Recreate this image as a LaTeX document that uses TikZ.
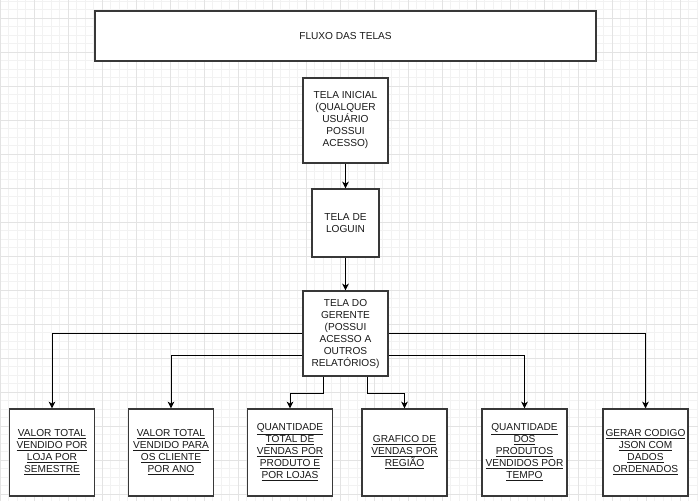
\documentclass[tikz,border=0pt]{standalone}
\usepackage{fontspec}
\setmainfont{Liberation Sans}
\usetikzlibrary{arrows.meta,calc}

\begin{document}
\begin{tikzpicture}[x=0.75pt,y=-0.75pt,
  gridminor/.style={draw=black!5,line width=0.6pt},
  gridmajor/.style={draw=black!11,line width=0.75pt},
  box/.style={draw=black!78,fill=white,line width=1.1pt,inner sep=0pt,
    align=center,font=\fontsize{7.6pt}{9pt}\selectfont,text=black!90},
  arr/.style={draw=black,line width=0.75pt,
    -{Stealth[length=5pt,width=5pt,inset=1.5pt]}}]

% canvas and grid
\useasboundingbox (0,0) rectangle (698,501);
\fill[white] (0,0) rectangle (698,501);
\foreach \i in {0,...,82} {
  \draw[gridminor] (\i*8.5,0) -- (\i*8.5,501);
}
\foreach \i in {0,...,59} {
  \draw[gridminor] (0,1.3+\i*8.5) -- (698,1.3+\i*8.5);
}
\foreach \i in {0,...,20} {
  \draw[gridmajor] (0.3+\i*34,0) -- (0.3+\i*34,501);
}
\foreach \i in {0,...,14} {
  \draw[gridmajor] (0,18.3+\i*34) -- (698,18.3+\i*34);
}

% title
\node[box,minimum width=501*0.75pt,minimum height=50*0.75pt] (title) at (345.5,36)
  {FLUXO DAS TELAS};

% main screens
\node[box,minimum width=85*0.75pt,minimum height=85*0.75pt] (ini) at (345.5,120.5)
  {TELA INICIAL\\(QUALQUER\\USUÁRIO\\POSSUI\\ACESSO)};
\node[box,minimum width=67*0.75pt,minimum height=68*0.75pt] (log) at (345.5,223)
  {TELA DE\\LOGUIN};
\node[box,minimum width=85*0.75pt,minimum height=85*0.75pt] (ger) at (345.5,333.5)
  {TELA DO\\GERENTE\\(POSSUI\\ACESSO A\\OUTROS\\RELATÓRIOS)};

% reports
\tikzset{rep/.style={box,minimum width=85*0.75pt,minimum height=87*0.75pt}}
\node[rep] (r1) at (52,452.5)
  {\underline{VALOR TOTAL}\\\underline{VENDIDO POR}\\\underline{LOJA POR}\\\underline{SEMESTRE}};
\node[rep] (r2) at (171,452.5)
  {\underline{VALOR TOTAL}\\\underline{VENDIDO PARA}\\\underline{OS CLIENTE}\\\underline{POR ANO}};
\node[rep] (r3) at (290,452.5)
  {\underline{QUANTIDADE}\\\underline{TOTAL DE}\\\underline{VENDAS POR}\\\underline{PRODUTO E}\\\underline{POR LOJAS}};
\node[rep] (r4) at (404.5,452.5)
  {\underline{GRAFICO DE}\\\underline{VENDAS POR}\\\underline{REGIÃO}};
\node[rep] (r5) at (524.5,452.5)
  {\underline{QUANTIDADE}\\\underline{DOS}\\\underline{PRODUTOS}\\\underline{VENDIDOS POR}\\\underline{TEMPO}};
\node[rep] (r6) at (645.5,452.5)
  {\underline{GERAR CODIGO}\\\underline{JSON COM}\\\underline{DADOS}\\\underline{ORDENADOS}};

% flow
\draw[arr] (ini.south) -- (log.north);
\draw[arr] (log.south) -- (ger.north);

\draw[arr] (ger.west) -| (r1.north);
\draw[arr] ($(ger.south west)!0.25!(ger.north west)$) -| (r2.north);
\draw[arr] ($(ger.south west)!0.25!(ger.south east)$) -- ++(0,17) -| (r3.north);
\draw[arr] ($(ger.south west)!0.75!(ger.south east)$) -- ++(0,17) -| (r4.north);
\draw[arr] ($(ger.south east)!0.25!(ger.north east)$) -| (r5.north);
\draw[arr] (ger.east) -| (r6.north);
\end{tikzpicture}
\end{document}
